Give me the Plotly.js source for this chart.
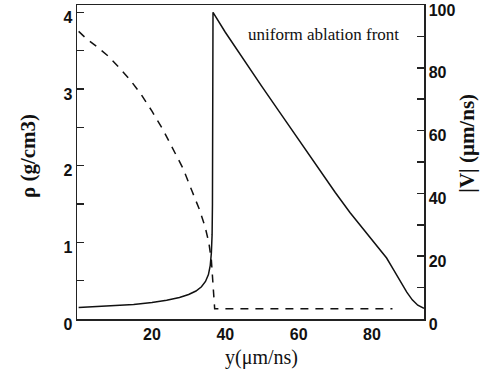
<!DOCTYPE html>
<html>
<head>
<meta charset="utf-8">
<script src="https://cdn.plot.ly/plotly-3.0.1.min.js"></script>
<style>html,body{margin:0;padding:0;background:#fff;}</style>
</head>
<body>
<div id="chart" style="width:484px;height:376px;"></div>
<script>
// Density rho (g/cm3), solid line, left axis
const rhoX = [0, 5, 10, 15, 20, 24, 27.5, 30, 32, 33.5, 34.6, 35.4, 35.9, 36.2, 36.4, 36.5, 36.55, 36.6, 36.65,
              40, 45, 50, 55, 60, 65, 70, 74, 77, 80, 82, 84, 86, 88, 89.5, 91, 92.5, 94.2];
const rhoY = [0.15, 0.16, 0.175, 0.19, 0.215, 0.245, 0.28, 0.32, 0.365, 0.42, 0.49, 0.58, 0.70, 0.86, 1.10, 1.5, 2.2, 3.0, 4.0,
              3.74, 3.38, 3.03, 2.685, 2.34, 1.99, 1.65, 1.39, 1.21, 1.04, 0.925, 0.795, 0.635, 0.47, 0.35, 0.25, 0.18, 0.14];
// Velocity |V| (um/ns), dashed line, right axis
const velX = [0, 2, 5, 8, 11, 14, 17, 20, 23, 26, 28.5, 31, 33, 34.5, 35.5, 36.2, 36.6, 36.8, 37.1, 40, 85.6];
const velY = [91.6, 89.4, 86.7, 83.8, 80.1, 76.2, 71.6, 66.2, 60.3, 53.7, 47.9, 40.5, 34.7, 29.3, 24.4, 18.8, 11.5, 5.4, 3.3, 3.3, 3.3];
const xTicks = [20, 40, 60, 80];
const rhoTicks = [0, 1, 2, 3, 4];
const velTicks = [0, 20, 40, 60, 80, 100];

const ink = '#111';
const tickFont = {family: 'Liberation Sans, Arial, sans-serif', size: 16, color: ink, weight: 'bold'};
const serif = 'Liberation Serif, Times New Roman, serif';

const traces = [
  {x: rhoX, y: rhoY, type: 'scatter', mode: 'lines', line: {color: ink, width: 1.5}, yaxis: 'y', showlegend: false, hoverinfo: 'skip'},
  {x: velX, y: velY, type: 'scatter', mode: 'lines', line: {color: ink, width: 1.5, dash: '8px,7px'}, yaxis: 'y2', showlegend: false, hoverinfo: 'skip'}
];

const layout = {
  width: 484, height: 376, autosize: false,
  margin: {l: 77, r: 60, t: 5, b: 57, pad: 0},
  paper_bgcolor: '#fff', plot_bgcolor: '#fff',
  showlegend: false,
  xaxis: {
    range: [-0.45, 94.2], tickvals: xTicks, ticks: '', showgrid: false, zeroline: false,
    showline: true, linecolor: '#222', linewidth: 1.5, mirror: true,
    tickfont: tickFont
  },
  yaxis: {
    range: [0, 4.095], tickvals: rhoTicks, ticks: 'inside', ticklen: 7, tickwidth: 1.5, tickcolor: '#222',
    minor: {dtick: 0.5, tick0: 0, ticks: 'inside', ticklen: 7, tickwidth: 1.5, tickcolor: '#222'},
    showgrid: false, zeroline: false, showline: true, linecolor: '#222', linewidth: 1.5,
    tickfont: tickFont, ticklabelshift: 5
  },
  yaxis2: {
    overlaying: 'y', side: 'right', range: [0, 100], tickvals: velTicks,
    ticks: 'inside', ticklen: 7, tickwidth: 1.5, tickcolor: '#222',
    minor: {dtick: 10, tick0: 0, ticks: 'inside', ticklen: 7, tickwidth: 1.5, tickcolor: '#222'},
    showgrid: false, zeroline: false, showline: true, linecolor: '#222', linewidth: 1.5,
    tickfont: tickFont, ticklabelshift: 5
  },
  annotations: [
    {text: 'y(μm/ns)', xref: 'paper', yref: 'paper', x: 0.5317, y: -0.124, xanchor: 'center', yanchor: 'middle',
     showarrow: false, font: {family: serif, size: 20, color: ink}},
    {text: 'ρ (g/cm3)', xref: 'paper', yref: 'paper', x: -0.1412, y: 0.519, xanchor: 'center', yanchor: 'middle',
     textangle: -90, showarrow: false, font: {family: serif, size: 21, color: ink, weight: 'bold'}},
    {text: '|V| (μm/ns)', xref: 'paper', yref: 'paper', x: 1.123, y: 0.5605, xanchor: 'center', yanchor: 'middle',
     textangle: -90, showarrow: false, font: {family: serif, size: 21, color: ink, weight: 'bold'}},
    {text: 'uniform ablation front', xref: 'paper', yref: 'paper', x: 0.486, y: 0.9045, xanchor: 'left', yanchor: 'middle',
     showarrow: false, font: {family: serif, size: 17, color: ink}}
  ]
};

Plotly.newPlot('chart', traces, layout, {staticPlot: true, displayModeBar: false});
</script>
</body>
</html>
